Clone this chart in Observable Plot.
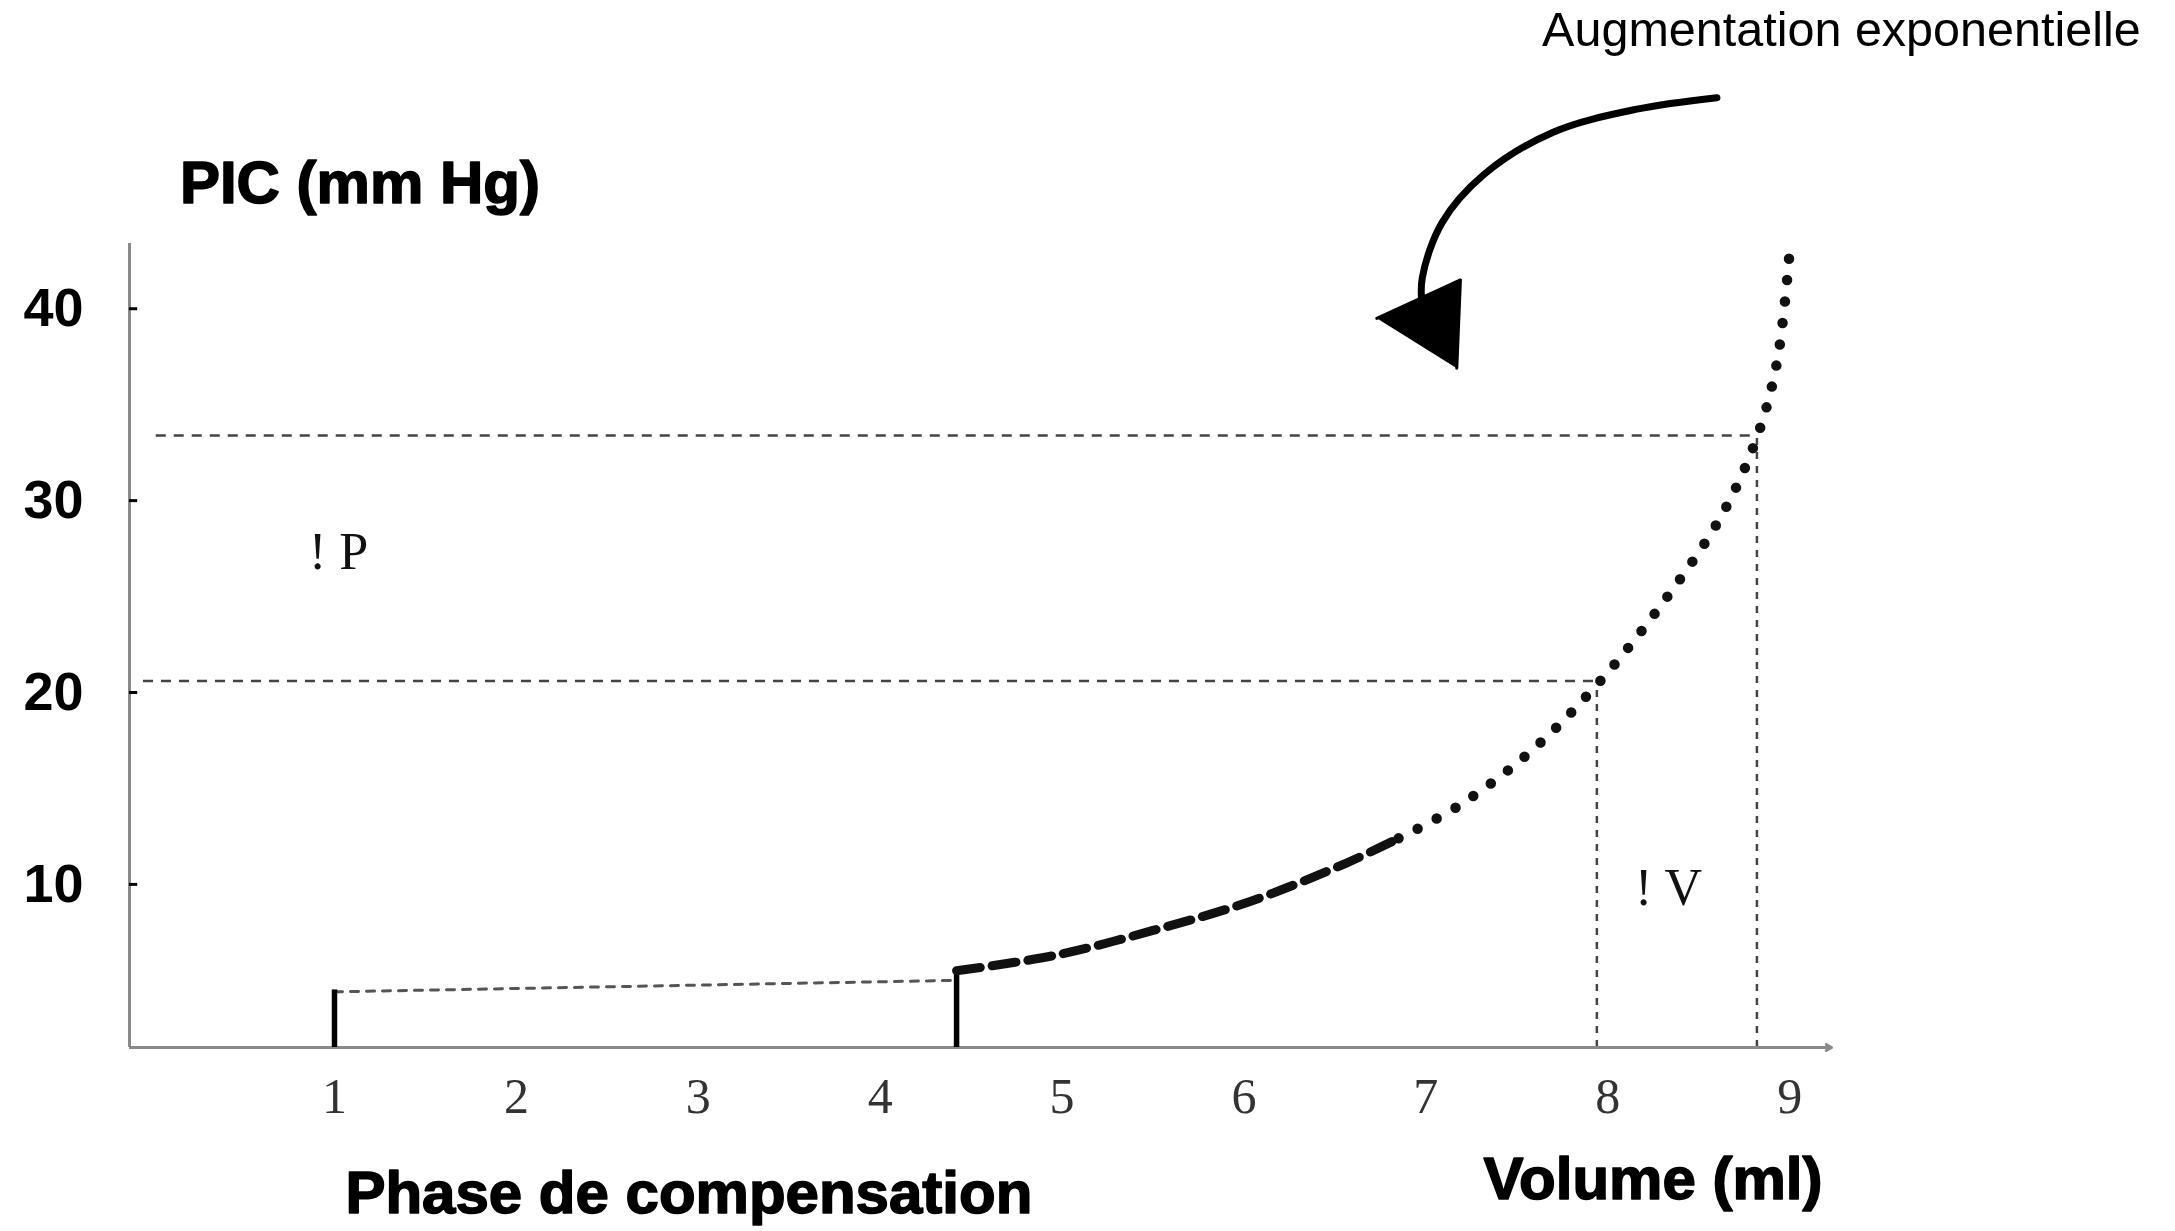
<!DOCTYPE html>
<html><head><meta charset="utf-8">
<script src="https://cdn.jsdelivr.net/npm/d3@7"></script>
<script src="https://cdn.jsdelivr.net/npm/@observablehq/plot@0.6"></script>
<style>html,body{margin:0;padding:0;background:#fff;} svg{display:block}</style>
</head><body><div id="chart"></div>
<script>
// Tick labels
const volumeTicks = [1, 2, 3, 4, 5, 6, 7, 8, 9];
const pressureTicks = [10, 20, 30, 40];

// Thin baseline segment (compensation phase)
const baselineVolume = [1.0, 4.42];
const baselinePressure = [4.4, 5.0];

// Vertical markers delimiting the compensation phase
const markerVolume = [1.0, 4.42];
const markerPressure = [4.5, 5.6];

// Dashed part of the curve
const dashedVolume = [4.42, 4.96, 5.5, 6.03, 6.56, 6.85];
const dashedPressure = [5.5, 6.3, 7.6, 9.1, 11.1, 12.4];

// Dotted (exponential) part of the curve
const dottedVolume = [6.85, 7.18, 7.56, 7.94, 8.32, 8.63, 8.82, 8.93, 9.0];
const dottedPressure = [12.4, 14.1, 16.8, 20.4, 24.9, 29.3, 33.3, 37.2, 43.0];

// Reference levels (ΔP / ΔV)
const refVolume = [7.94, 8.82];
const refPressure = [20.6, 33.4];
const refStartVolume = [-0.05, 0.02];

// Annotation arrow (hand-drawn) path and head
const arrowVolume = [8.60, 8.16, 7.70, 7.32, 7.09, 6.98, 6.98];
const arrowPressure = [51.0, 50.4, 49.2, 47.0, 44.5, 41.6, 40.0];
const headVolume = [6.73, 7.19, 7.17];
const headPressure = [39.5, 41.5, 36.9];

const xMin = -0.127, xMax = 9.23, yMin = 1.5, yMax = 43.4;

const zip = (a, b) => a.map((v, i) => ({x: v, y: b[i]}));
const baseline = zip(baselineVolume, baselinePressure);
const markers = zip(markerVolume, markerPressure);
const dashed = zip(dashedVolume, dashedPressure);
const dotted = zip(dottedVolume, dottedPressure);
const refs = refVolume.map((v, i) => ({x: v, y: refPressure[i], x0: refStartVolume[i]}));
const arrow = zip(arrowVolume, arrowPressure);
const head = zip(headVolume, headPressure);

const sansBold = {fontFamily: "Liberation Sans, Arial, sans-serif", fontWeight: "bold", fontSize: 60, fill: "#000", stroke: "#000", strokeWidth: 1.6};

const chart = Plot.plot({
  width: 2175,
  height: 1231,
  marginLeft: 129,
  marginRight: 344,
  marginTop: 243,
  marginBottom: 184,
  style: {background: "#fff", fontFamily: "Liberation Sans, Arial, sans-serif"},
  x: {domain: [xMin, xMax]},
  y: {domain: [yMin, yMax]},
  marks: [
    // reference dashed lines
    Plot.ruleY(refs, {y: "y", x1: "x0", x2: "x", stroke: "#444", strokeWidth: 2.5, strokeDasharray: "10,8"}),
    Plot.ruleX(refs, {x: "x", y1: yMin, y2: "y", stroke: "#444", strokeWidth: 2.5, strokeDasharray: "7,7"}),
    // axes lines
    Plot.ruleX([xMin], {y1: yMin, y2: yMax, stroke: "#8a8a8a", strokeWidth: 3}),
    Plot.ruleY([yMin], {x1: xMin, x2: xMax, stroke: "#8a8a8a", strokeWidth: 3}),
    Plot.arrow([{x1: xMax - 0.1, x2: xMax}], {x1: "x1", x2: "x2", y1: yMin, y2: yMin, stroke: "#8a8a8a", strokeWidth: 3, headLength: 14}),
    Plot.ruleY(pressureTicks, {x1: xMin, x2: xMin + 0.045, stroke: "#000", strokeWidth: 3}),
    // axes labels
    Plot.axisY({ticks: pressureTicks, tickSize: 0, tickPadding: 46, fontSize: 54, fontWeight: "bold", fill: "#000", stroke: "#000", strokeWidth: 1.4, label: null, fontFamily: "Liberation Sans, Arial, sans-serif"}),
    Plot.axisX({ticks: volumeTicks, tickSize: 0, tickPadding: 30, fontSize: 50, fill: "#333", label: null, fontFamily: "Liberation Serif, Times New Roman, serif", tickFormat: d => String(d)}),
    // compensation baseline
    Plot.line(baseline, {x: "x", y: "y", stroke: "#555", strokeWidth: 3, strokeDasharray: "8,8"}),
    // vertical markers
    Plot.ruleX(markers, {x: "x", y1: yMin, y2: "y", stroke: "#000", strokeWidth: 5.5}),
    // dashed curve
    Plot.line(dashed, {x: "x", y: "y", curve: "catmull-rom", stroke: "#111", strokeWidth: 9, strokeDasharray: "24,12"}),
    // dotted curve
    Plot.line(dotted, {x: "x", y: "y", curve: "catmull-rom", stroke: "#111", strokeWidth: 10.5, strokeLinecap: "round", strokeDasharray: "0,21.5"}),
    // annotation arrow
    Plot.line(arrow, {x: "x", y: "y", curve: "catmull-rom", stroke: "#000", strokeWidth: 7, strokeLinecap: "round"}),
    Plot.line(head, {x: "x", y: "y", fill: "#000", stroke: "#000", strokeWidth: 3, strokeLinejoin: "round"}),
    // texts
    Plot.text(["PIC (mm Hg)"], {x: 0.15, y: 46.5, text: d => d, textAnchor: "start", ...sansBold}),
    Plot.text(["Volume (ml)"], {x: 9.18, y: -5.4, text: d => d, textAnchor: "end", ...sansBold}),
    Plot.text(["Phase de compensation"], {x: 1.06, y: -6.1, text: d => d, textAnchor: "start", ...sansBold}),
    Plot.text(["Augmentation exponentielle"], {x: 10.93, y: 54.5, text: d => d, textAnchor: "end", fontSize: 48.5, fill: "#000", fontFamily: "Liberation Sans, Arial, sans-serif"}),
    Plot.text(["! P"], {x: 0.86, y: 27.3, text: d => d, textAnchor: "start", fontSize: 52, fill: "#111", fontFamily: "Liberation Serif, Times New Roman, serif"}),
    Plot.text(["! V"], {x: 8.15, y: 9.8, text: d => d, textAnchor: "start", fontSize: 52, fill: "#111", fontFamily: "Liberation Serif, Times New Roman, serif"})
  ]
});
document.getElementById("chart").append(chart);
</script>
</body></html>
